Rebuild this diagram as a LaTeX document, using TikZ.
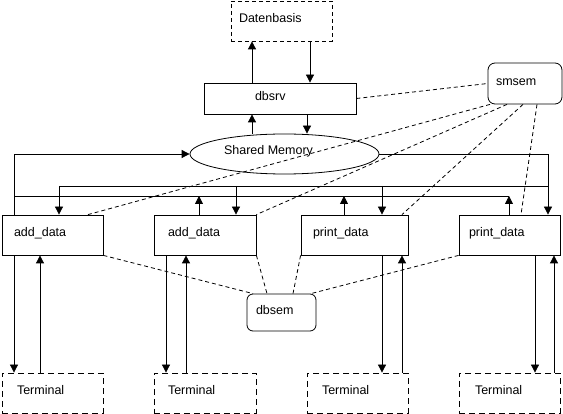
\documentclass[tikz,border=0pt]{standalone}
\usepackage{fontspec}
\setmainfont{Liberation Sans}
\usetikzlibrary{arrows.meta,shapes.geometric}
\begin{document}
\begin{tikzpicture}[x=1pt,y=-1pt,
  every node/.style={font=\fontsize{12.5}{15}\selectfont},
  base/.style={draw, line width=0.8pt, inner ysep=0pt, align=left, text height=9pt, text depth=5pt},
  procbox/.style={base},
  dashbox/.style={base, dash pattern=on 4pt off 3pt},
  termbox/.style={base, dash pattern=on 6pt off 4pt},
  sembox/.style={base, rounded corners=7pt},
  arr/.style={line width=0.8pt, -{Triangle[width=8pt,length=8pt]}},
  ln/.style={line width=0.8pt},
  dl/.style={line width=0.8pt, dash pattern=on 4pt off 3pt}
]
\useasboundingbox (0,0) rectangle (563,414);
% nodes
\node[dashbox, inner xsep=8pt, text width=85pt, minimum height=40pt] (db) at (281.5,21) {Datenbasis};
\node[procbox, inner xsep=51pt, text width=50pt, minimum height=31pt] (dbsrv) at (280,98.5) {dbsrv};
\node[draw, ellipse, line width=0.8pt, minimum width=189pt, minimum height=40pt, inner sep=0pt,
      label={[xshift=-16pt,yshift=3pt]center:Shared Memory}] (sm) at (284.5,154) {};
\node[sembox, inner xsep=8pt, text width=58pt, minimum height=41pt] (smsem) at (525,83.5) {smsem};
\node[procbox, inner xsep=12pt, text width=77pt, minimum height=40pt] (a1) at (52.5,235) {add\_data};
\node[procbox, inner xsep=14pt, text width=74pt, minimum height=40pt] (a2) at (205,235) {add\_data};
\node[procbox, inner xsep=12pt, text width=83pt, minimum height=40pt] (p1) at (354.5,235) {print\_data};
\node[procbox, inner xsep=10pt, text width=81pt, minimum height=40pt] (p2) at (509.5,235) {print\_data};
\node[sembox, inner xsep=9pt, text width=51pt, minimum height=37pt, rounded corners=6pt] (dbsem) at (281.5,312.5) {dbsem};
\node[termbox, inner xsep=15pt, text width=71pt, minimum height=40pt] (t1) at (52.5,393) {Terminal};
\node[termbox, inner xsep=14pt, text width=74pt, minimum height=40pt] (t2) at (205,393) {Terminal};
\node[termbox, inner xsep=15pt, text width=71pt, minimum height=40pt] (t3) at (357.5,393) {Terminal};
\node[termbox, inner xsep=16pt, text width=69pt, minimum height=40pt] (t4) at (509.5,393) {Terminal};
% dbsrv <-> Datenbasis, Shared Memory
\draw[arr] (dbsrv.north -| 252,0) -- (db.south -| 252,0);
\draw[arr] (db.south -| 310,0) -- (dbsrv.north -| 310,0);
\draw[arr] (sm.north -| 252,0) -- (dbsrv.south -| 252,0);
\draw[arr] (dbsrv.south -| 307,0) -- (sm.north -| 307,0);
% writing bus
\coordinate (busL) at (14,196);
\coordinate (busR) at (509,196);
\draw[arr] (a1.north -| 14,0) |- (sm.west);
\draw[ln] (busL) -- (busR);
\draw[arr] (a2.north -| 199,0) -- (busL -| 199,0);
\draw[arr] (p1.north -| 344,0) -- (busL -| 344,0);
\draw[arr] (p2.north -| 509,0) -- (busR);
% reading bus
\coordinate (rbL) at (59,186);
\draw[arr] (sm.east) -| (p2.north -| 548,0);
\draw[ln] (rbL) -- (rbL -| 548,0);
\draw[arr] (rbL) -- (a1.north -| 59,0);
\draw[arr] (rbL -| 236,0) -- (a2.north -| 236,0);
\draw[arr] (rbL -| 382,0) -- (p1.north -| 382,0);
% terminals
\draw[arr] (a1.south -| 14,0) -- (t1.north -| 14,0);
\draw[arr] (t1.north -| 40,0) -- (a1.south -| 40,0);
\draw[arr] (a2.south -| 166,0) -- (t2.north -| 166,0);
\draw[arr] (t2.north -| 186,0) -- (a2.south -| 186,0);
\draw[arr] (p1.south -| 382,0) -- (t3.north -| 382,0);
\draw[arr] (t3.north -| 402,0) -- (p1.south -| 402,0);
\draw[arr] (p2.south -| 535,0) -- (t4.north -| 535,0);
\draw[arr] (t4.north -| 554,0) -- (p2.south -| 554,0);
% smsem dashed
\draw[dl] (dbsrv.east) -- (smsem.west);
\draw[dl] (smsem.south -| 490,0) -- (a1.north -| 88,0);
\draw[dl] (smsem.south -| 507,0) -- (a2.north east);
\draw[dl] (smsem.south -| 523,0) -- (p1.north -| 402,0);
\draw[dl] (smsem.south -| 537,0) -- (p2.north -| 521,0);
% dbsem dashed
\draw[dl] (a1.south east) -- (dbsem.north -| 253,0);
\draw[dl] (a2.south east) -- (dbsem.north -| 267,0);
\draw[dl] (p1.south west) -- (dbsem.north -| 293,0);
\draw[dl] (p2.south west) -- (dbsem.north -| 311,0);
\end{tikzpicture}
\end{document}
